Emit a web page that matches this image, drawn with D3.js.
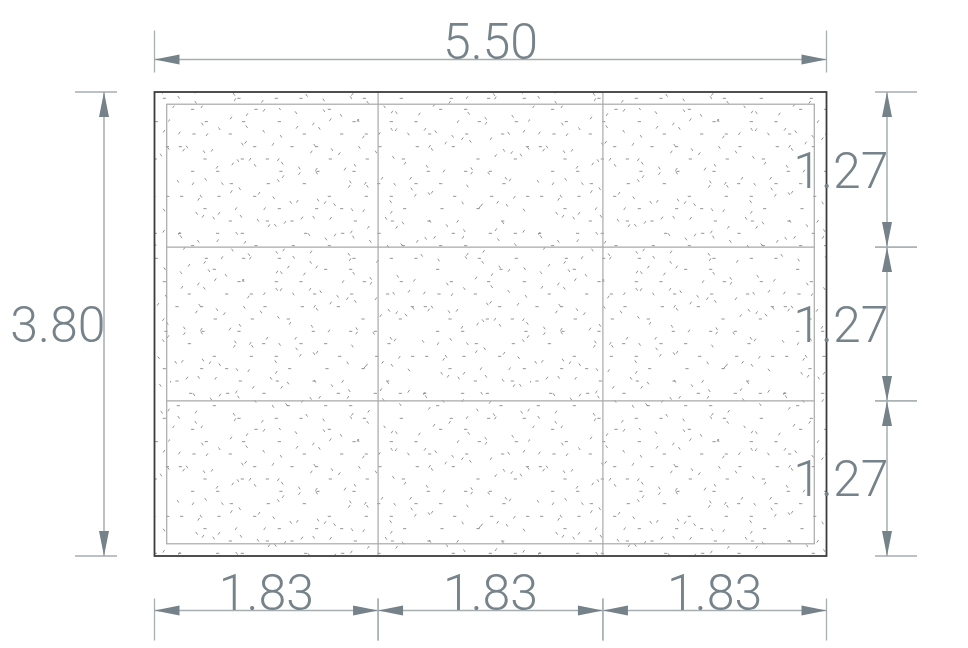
<!DOCTYPE html>
<html>
<head>
<meta charset="utf-8">
<script src="https://d3js.org/d3.v7.min.js"></script>
<style>
  html, body { margin: 0; padding: 0; background: #fff; }
  svg { display: block; }
  text { font-family: Roboto, "Liberation Sans", sans-serif; font-weight: 300; font-size: 50px; fill: #77838a; }
</style>
</head>
<body>
<div id="chart"></div>
<script>
// Slab dimensions
const slabWidth = 5.50;
const slabHeight = 3.80;
const cover = 0.10;
const columnEdges = [0, 1.83, 3.67, 5.50];
const rowEdges = [0, 1.27, 2.53, 3.80];
const columnLabels = ['1.83', '1.83', '1.83'];
const rowLabels = ['1.27', '1.27', '1.27'];
const widthLabel = '5.50';
const heightLabel = '3.80';

// Concrete hatch, one block (tile units, 1080 x 480)
const dashSpecks = [
  [68,4],[258,4],[109,41],[221,41],[328,41],[72,78],[181,78],[31,116],[254,116],[105,153],[217,153],[292,153],[68,190],[143,190],[333,190],[184,227],[295,227],
  [478,4],[552,41],[664,41],[403,78],[515,78],[589,78],[366,116],[440,116],[630,116],[481,153],[592,153],[700,153],[444,190],[552,190],[403,227],[626,227],
  [812,4],[887,4],[738,41],[928,41],[1039,41],[779,78],[890,78],[998,78],[742,116],[850,116],[1072,116],[924,153],[1036,153],[775,190],[887,190],[961,190],[738,227],[812,227],[1002,227],
  [35,265],[147,265],[254,265],[105,302],[328,302],[181,339],[292,339],[29,376],[143,376],[217,376],[68,413],[258,413],[109,451],[221,451],[328,451],
  [478,265],[589,265],[664,265],[440,302],[515,302],[704,302],[366,339],[556,339],[667,339],[407,376],[518,376],[627,376],[370,413],[478,413],[700,413],[552,451],[664,451],
  [854,265],[965,265],[1073,265],[816,302],[924,302],[777,339],[998,339],[850,376],[961,376],[1036,376],[812,413],[887,413],[738,451],[928,451],[1039,451]
];
const slashSpecks = [
  [183,30],[231,20],[282,7],[28,75],[111,80],[227,103],[309,109],[126,127],[41,126],[240,154],[325,155],[188,168],[141,178],[339,206],[69,227],
  [481,35],[430,48],[381,58],[580,87],[628,77],[424,132],[508,137],[525,183],[439,184],[388,197],[636,211],[586,226],[538,235],[705,166],[678,65],[666,12],[564,37],
  [748,18],[864,41],[948,46],[765,64],[1062,70],[1078,37],[877,92],[963,92],[827,105],[779,115],[1025,134],[977,143],[905,195],[822,189],[722,211],[1020,216],
  [184,251],[267,256],[86,274],[147,316],[99,325],[198,302],[284,302],[297,353],[345,343],[143,398],[225,403],[43,421],[341,426],[156,449],[241,450],[104,463],[57,472],[355,477],[28,376],
  [382,280],[465,284],[581,308],[664,313],[396,330],[482,331],[595,358],[680,358],[544,372],[495,381],[423,432],[540,455],[622,460],[440,477],
  [736,262],[786,253],[983,283],[1033,268],[935,291],[929,298],[863,340],[978,365],[1061,370],[794,388],[879,388],[742,400],[941,430],[892,439]
];
const backSpecks = [
  [97,48],[148,62],[230,56],[281,70],[333,85],[217,108],[51,117],[102,131],[204,158],[337,166],[255,172],[24,220],[107,214],[157,227],[325,218],[329,2],
  [378,14],[462,8],[513,22],[565,38],[448,61],[665,64],[434,112],[486,125],[568,118],[618,132],[670,148],[555,172],[388,180],[440,195],[541,222],[592,235],[674,229],[679,14],[715,78],
  [896,16],[947,31],[1028,25],[797,71],[848,85],[901,100],[1016,76],[786,124],[1002,127],[1053,141],[1075,121],[771,175],[905,182],[956,196],[1008,211],[892,234],
  [209,242],[93,265],[311,269],[80,316],[131,330],[213,325],[264,337],[316,352],[33,386],[85,400],[200,376],[187,426],[237,440],[320,433],
  [362,283],[444,276],[494,290],[546,305],[662,281],[431,328],[648,331],[699,345],[417,380],[550,387],[468,393],[601,400],[654,415],[695,410],[371,448],[537,439],[422,463],
  [725,243],[777,257],[878,285],[1011,292],[1062,306],[780,340],[999,344],[831,353],[883,368],[767,391],[985,395],[1036,410],[755,442],[806,456],[888,449],[938,463],[989,477]
];

const WIDTH = 968;
const HEIGHT = 648;
const DIM_COLOR = '#a6aeb1';
const ARROW_COLOR = '#76828a';
const GRID_COLOR = '#a9a9a9';
const TILE_W = 1080;
const TILE_H = 480;
const ROW_SHIFT = 735; // second hatch row is shifted sideways

const x = d3.scaleLinear().domain([0, slabWidth]).range([154.5, 826.5]);
const y = d3.scaleLinear().domain([0, slabHeight]).range([92, 556]);
const tileX = d3.scaleLinear().domain([0, TILE_W]).range([0, 360]);
const tileY = d3.scaleLinear().domain([0, TILE_H]).range([0, 160]);

const svg = d3.select('#chart').append('svg')
  .attr('width', WIDTH)
  .attr('height', HEIGHT)
  .attr('viewBox', `0 0 ${WIDTH} ${HEIGHT}`);

// Hatch tile, two shifted rows so the repeat is not so obvious
const pattern = svg.append('defs').append('pattern')
  .attr('id', 'concrete')
  .attr('patternUnits', 'userSpaceOnUse')
  .attr('x', 170)
  .attr('y', 108)
  .attr('width', tileX(TILE_W))
  .attr('height', tileY(TILE_H * 2));

function addSpecks(specks, dx, dy) {
  const shifted = specks.map(d => [(d[0] + ROW_SHIFT) % TILE_W, d[1] + TILE_H]);
  pattern.selectAll(null)
    .data(specks.concat(shifted))
    .join('line')
    .attr('x1', d => tileX(d[0]) - dx)
    .attr('y1', d => tileY(d[1]) - dy)
    .attr('x2', d => tileX(d[0]) + dx)
    .attr('y2', d => tileY(d[1]) + dy)
    .attr('stroke', '#777')
    .attr('stroke-width', 0.8);
}
addSpecks(dashSpecks, 1.6, 0);
addSpecks(slashSpecks, 0.9, -1.3);
addSpecks(backSpecks, 0.9, 1.3);

// Slab
svg.append('rect')
  .attr('x', x(0))
  .attr('y', y(0))
  .attr('width', x(slabWidth) - x(0))
  .attr('height', y(slabHeight) - y(0))
  .attr('fill', 'url(#concrete)');

// Reinforcement grid
const grid = svg.append('g')
  .attr('stroke', GRID_COLOR)
  .attr('stroke-width', 1.2)
  .attr('fill', 'none');

grid.append('rect')
  .attr('x', x(cover))
  .attr('y', y(cover))
  .attr('width', x(slabWidth - cover) - x(cover))
  .attr('height', y(slabHeight - cover) - y(cover));

grid.selectAll('line.col')
  .data(columnEdges.slice(1, -1))
  .join('line')
  .attr('class', 'col')
  .attr('x1', d => x(d))
  .attr('x2', d => x(d))
  .attr('y1', y(0))
  .attr('y2', y(slabHeight));

grid.selectAll('line.row')
  .data(rowEdges.slice(1, -1))
  .join('line')
  .attr('class', 'row')
  .attr('x1', x(cover))
  .attr('x2', x(slabWidth - cover))
  .attr('y1', d => y(d))
  .attr('y2', d => y(d));

svg.append('rect')
  .attr('x', x(0))
  .attr('y', y(0))
  .attr('width', x(slabWidth) - x(0))
  .attr('height', y(slabHeight) - y(0))
  .attr('fill', 'none')
  .attr('stroke', '#3c3c3c')
  .attr('stroke-width', 1.8);

/**
 * Horizontal dimension line between two x values, with end ticks and arrows
 */
function dimensionH(g, from, to, lineY, label, tickUp, tickDown) {
  const a = x(from);
  const b = x(to);
  g.append('line').attr('x1', a).attr('x2', b).attr('y1', lineY).attr('y2', lineY)
    .attr('stroke', DIM_COLOR).attr('stroke-width', 1.5);
  [a, b].forEach(v => {
    g.append('line').attr('x1', v).attr('x2', v).attr('y1', lineY - tickUp).attr('y2', lineY + tickDown)
      .attr('stroke', DIM_COLOR).attr('stroke-width', 1.3);
  });
  g.append('path').attr('d', `M${a},${lineY}L${a + 25},${lineY - 5}V${lineY + 5}Z`).attr('fill', ARROW_COLOR);
  g.append('path').attr('d', `M${b},${lineY}L${b - 25},${lineY - 5}V${lineY + 5}Z`).attr('fill', ARROW_COLOR);
  g.append('text')
    .attr('x', (a + b) / 2)
    .attr('y', lineY - 0.5)
    .attr('text-anchor', 'middle')
    .text(label);
}

/**
 * Vertical dimension line between two y values, text ends at the line
 */
function dimensionV(g, from, to, lineX, label, tickLeft, tickRight) {
  const a = y(from);
  const b = y(to);
  g.append('line').attr('x1', lineX).attr('x2', lineX).attr('y1', a).attr('y2', b)
    .attr('stroke', DIM_COLOR).attr('stroke-width', 1.5);
  [a, b].forEach(v => {
    g.append('line').attr('x1', lineX - tickLeft).attr('x2', lineX + tickRight).attr('y1', v).attr('y2', v)
      .attr('stroke', DIM_COLOR).attr('stroke-width', 1.3);
  });
  g.append('path').attr('d', `M${lineX},${a}L${lineX - 5},${a + 25}H${lineX + 5}Z`).attr('fill', ARROW_COLOR);
  g.append('path').attr('d', `M${lineX},${b}L${lineX - 5},${b - 25}H${lineX + 5}Z`).attr('fill', ARROW_COLOR);
  g.append('text')
    .attr('x', lineX + 1.5)
    .attr('y', (a + b) / 2 + 18)
    .attr('text-anchor', 'end')
    .text(label);
}

const dims = svg.append('g');

dimensionH(dims, 0, slabWidth, 59.5, widthLabel, 29, 13);
columnLabels.forEach((label, i) => {
  dimensionH(dims, columnEdges[i], columnEdges[i + 1], 610.5, label, 12, 30);
});
dimensionV(dims, 0, slabHeight, 104, heightLabel, 29, 13);
rowLabels.forEach((label, i) => {
  dimensionV(dims, rowEdges[i], rowEdges[i + 1], 887, label, 12, 30);
});
</script>
</body>
</html>
